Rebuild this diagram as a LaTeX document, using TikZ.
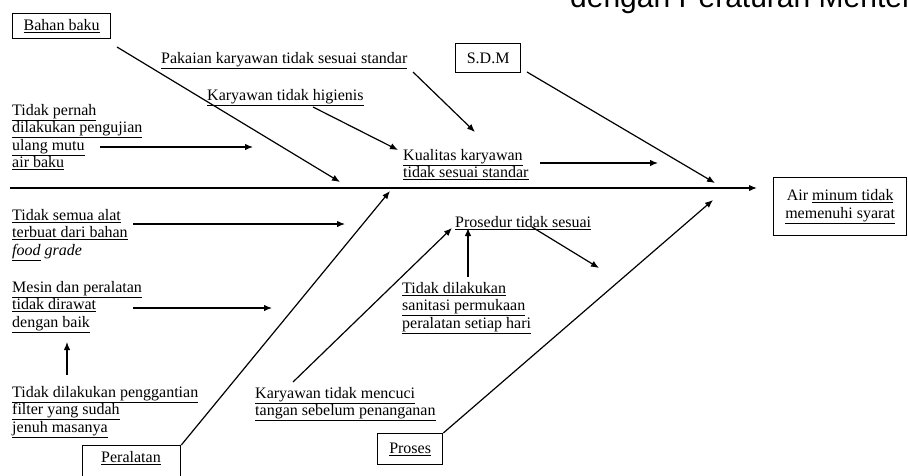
\documentclass[tikz,border=0pt]{standalone}
\usepackage{fontspec}
\setmainfont{Liberation Serif}
\newfontfamily\hdrfont{Liberation Sans}
\usetikzlibrary{arrows.meta}
\newcommand\Ul[1]{\underline{#1}}
\begin{document}
\begin{tikzpicture}[x=1pt,y=-1pt,
  lbl/.style={font=\fontsize{16}{17.5}\selectfont, align=left, inner sep=0pt, anchor=north west},
  boxtxt/.style={font=\fontsize{16}{18}\selectfont, align=center, inner sep=0pt},
  catbox/.style={draw, line width=1.3pt, inner sep=0pt, anchor=north west, font=\fontsize{16}{18}\selectfont, align=center},
  arr/.style={line width=1.2pt, -{Latex[length=8pt,width=6.5pt]}},
]
\useasboundingbox (0,0) rectangle (908,475);
\clip (0,0) rectangle (908,475);

% cut-off heading from the page above
\node[font=\hdrfont\fontsize{30}{30}\selectfont, anchor=base west, inner sep=0pt] (hdr) at (570,7) {dengan Peraturan Menteri};

% category boxes
\node[catbox, minimum width=98pt, minimum height=25pt] (bb) at (12,13) {\Ul{Bahan baku}};
\node[catbox, minimum width=65pt, minimum height=29pt] (sdm) at (455,43) {S.D.M};
\node[catbox, minimum width=133pt, minimum height=58pt] (air) at (773,177) {Air \Ul{minum tidak}\\\Ul{memenuhi syarat}};
\node[catbox, minimum width=98pt, minimum height=45pt] (per) at (82,445) {};
\node[boxtxt] (pertxt) at (131,458) {\Ul{Peralatan}};
\node[catbox, minimum width=65pt, minimum height=31pt] (pro) at (377,433) {\Ul{Proses}};

% cause labels
\node[lbl] (tpn) at (12,104) {\Ul{Tidak pernah}\\\Ul{dilakukan pengujian}\\\Ul{ulang mutu}\\\Ul{air baku}};
\node[lbl] (tsa) at (12,209) {\Ul{Tidak semua alat}\\\Ul{terbuat dari bahan}\\\textit{\Ul{food} grade}};
\node[lbl] (mdp) at (12,281) {\Ul{Mesin dan peralatan}\\\Ul{tidak dirawat}\\\Ul{dengan baik}};
\node[lbl] (tdp) at (12,386) {\Ul{Tidak dilakukan penggantian}\\\Ul{filter yang sudah}\\\Ul{jenuh masanya}};
\node[lbl] (pks) at (161,52) {\Ul{Pakaian karyawan tidak sesuai standar}};
\node[lbl] (kth) at (207,89) {\Ul{Karyawan tidak higienis}};
\node[lbl] (kks) at (403,149) {\Ul{Kualitas karyawan}\\\Ul{tidak sesuai standar}};
\node[lbl] (pts) at (455,216) {\Ul{Prosedur tidak sesuai}};
\node[lbl] (tds) at (402,282) {\Ul{Tidak dilakukan}\\\Ul{sanitasi permukaan}\\\Ul{peralatan setiap hari}};
\node[lbl] (ktm) at (255,387) {\Ul{Karyawan tidak mencuci}\\\Ul{tangan sebelum penanganan}};

% spine
\coordinate (spS) at (10,188);
\coordinate (spE) at (757,188);
\draw[arr, line width=1.4pt] (spS) -- (spE);

% main bones
\coordinate (bbS) at (117,47);  \coordinate (bbE) at (340,182);
\coordinate (sdmS) at (527,72); \coordinate (sdmE) at (715,183);
\coordinate (perE) at (390,191);
\coordinate (proE) at (713,200);
\draw[arr] (bbS) -- (bbE);
\draw[arr] (sdmS) -- (sdmE);
\draw[arr] (per.north east) -- (perE);
\draw[arr] (pro.north east) -- (proE);

% sub arrows
\coordinate (a1S) at (100,147); \coordinate (a1E) at (253,147);
\coordinate (a2S) at (133,224); \coordinate (a2E) at (345,224);
\coordinate (a3S) at (133,308); \coordinate (a3E) at (272,308);
\coordinate (a4S) at (67,375);  \coordinate (a4E) at (67,342);
\coordinate (a5S) at (313,107); \coordinate (a5E) at (398,150);
\coordinate (a6S) at (413,72);  \coordinate (a6E) at (475,132);
\coordinate (a7S) at (540,163); \coordinate (a7E) at (658,163);
\coordinate (a8S) at (293,382); \coordinate (a8E) at (452,228);
\coordinate (a9S) at (468,277); \coordinate (a9E) at (468,228);
\coordinate (a10S) at (532,227); \coordinate (a10E) at (599,268);
\draw[arr] (a1S) -- (a1E);
\draw[arr] (a2S) -- (a2E);
\draw[arr] (a3S) -- (a3E);
\draw[arr] (a4S) -- (a4E);
\draw[arr] (a5S) -- (a5E);
\draw[arr] (a6S) -- (a6E);
\draw[arr] (a7S) -- (a7E);
\draw[arr] (a8S) -- (a8E);
\draw[arr] (a9S) -- (a9E);
\draw[arr] (a10S) -- (a10E);
\end{tikzpicture}
\end{document}
